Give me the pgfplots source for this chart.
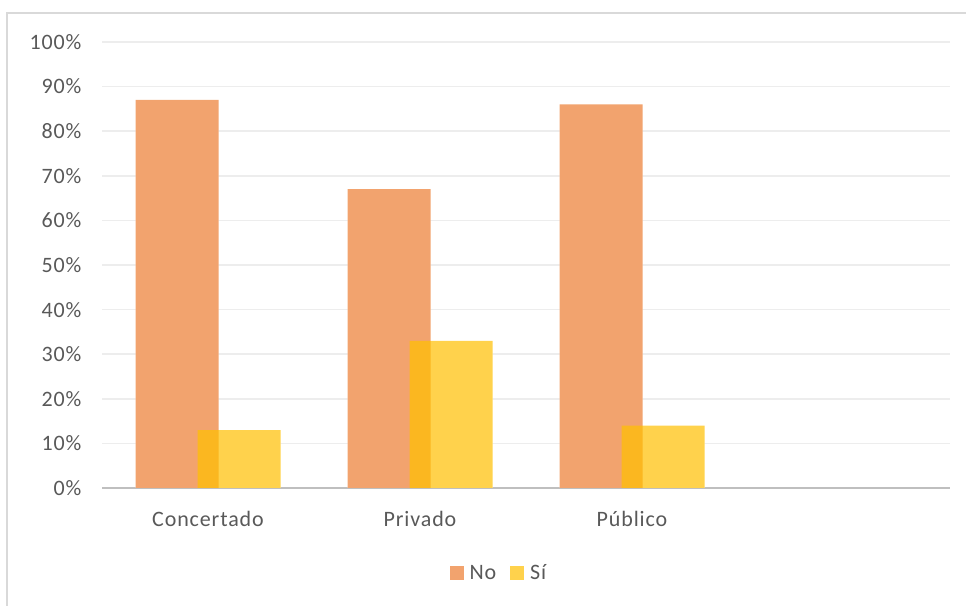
\documentclass[border=0pt]{standalone}
\usepackage{fontspec}
\setmainfont{Carlito}[LetterSpace=4]
\usepackage{pgfplots}
\pgfplotsset{compat=1.18}
\definecolor{txt}{HTML}{595959}
\definecolor{gridc}{HTML}{EDEDED}
\definecolor{axl}{HTML}{BFBFBF}
\definecolor{framec}{HTML}{D9D9D9}
\definecolor{cno}{HTML}{ED7D31}
\definecolor{csi}{HTML}{FFC000}
\begin{document}
\begin{tikzpicture}[x=1bp,y=1bp]
\path[use as bounding box] (0,0) rectangle (966,606);
\draw[framec, line width=2bp] (7,0) -- (7,593) -- (966,593);
\begin{axis}[
  at={(102bp,118bp)}, anchor=south west,
  scale only axis, width=848bp, height=446bp,
  xmin=-0.5, xmax=3.5, ymin=0, ymax=100,
  axis x line*=bottom, axis y line*=left,
  x axis line style={axl, line width=2.5bp, -},
  y axis line style={draw=none, -},
  xtick={0,1,2}, xticklabels={Concertado,Privado,Público},
  major tick length=0pt,
  ytick={0,10,...,100},
  yticklabels={0\%,10\%,20\%,30\%,40\%,50\%,60\%,70\%,80\%,90\%,100\%},
  ymajorgrids, xmajorgrids=false, major grid style={draw=gridc, line width=1.5bp},
  tick label style={font=\fontsize{22bp}{26bp}\selectfont, text=txt},
  /pgf/number format/assume math mode=true,
  xticklabel style={yshift=-20bp},
  yticklabel style={xshift=-17bp},
  legend style={at={(0.468,-0.19)}, anchor=center, draw=none, legend columns=2,
    font=\fontsize{22bp}{26bp}\selectfont, text=txt,
    /tikz/every odd column/.append style={column sep=4bp},
    /tikz/every even column/.append style={column sep=12bp}},
  legend image code/.code={\fill[#1] (0bp,-7bp) rectangle (14bp,7bp);},
  clip=false,
]
\addplot[forget plot, ybar, bar width=83bp, bar shift=-31bp, draw=none, fill=white]
  coordinates {(0,87) (1,67) (2,86)};
\addplot[forget plot, ybar, bar width=83bp, bar shift=31bp, draw=none, fill=white]
  coordinates {(0,13) (1,33) (2,14)};
\addplot[ybar, bar width=83bp, bar shift=-31bp, draw=none, fill=cno, fill opacity=0.7]
  coordinates {(0,87) (1,67) (2,86)};
\addlegendentry{No}
\addplot[ybar, bar width=83bp, bar shift=31bp, draw=none, fill=csi, fill opacity=0.7]
  coordinates {(0,13) (1,33) (2,14)};
\addlegendentry{Sí}
\end{axis}
\end{tikzpicture}
\end{document}
